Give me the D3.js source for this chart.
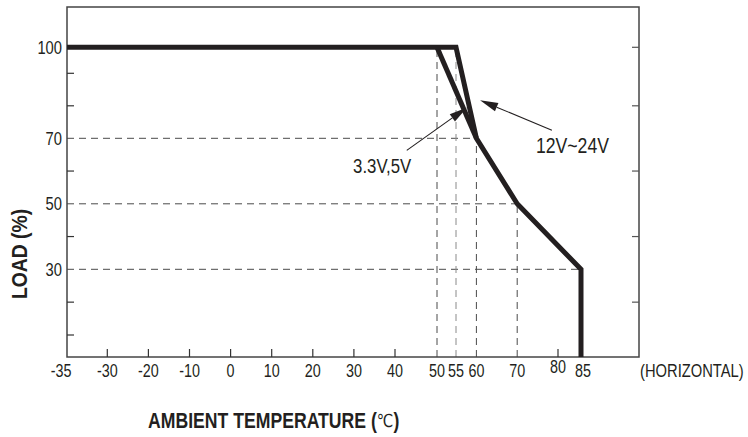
<!DOCTYPE html>
<html><head><meta charset="utf-8">
<script src="https://cdn.jsdelivr.net/npm/d3@7"></script>
<style>body{margin:0;background:#fff} svg{display:block}
text{font-family:"Liberation Sans",Arial,sans-serif;fill:#231f20}
</style>
</head><body><svg id="chart" width="748" height="437"></svg>
<script>
// ---- data ----
const xTickValues = [-35,-30,-20,-10,0,10,20,30,40,50,55,60,70,80,85];
const xTickLabels = ["-35","-30","-20","-10","0","10","20","30","40","50","55","60","70","80","85"];
const xMinorTicks = [-30,-20,-10,0,10,20,30,40,80];
const yTickValues = [100,70,50,30];
const yTickLabels = ["100","70","50","30"];
const yMinorTicks = [90,80,60,40,20,10];
const yRightTicks = [100,80,60,40,20];
const tempHigh = [-35,55,60,70,85,85];
const loadHigh = [100,100,70,50,30,0];
const tempLow = [50,60];
const loadLow = [100,70];
const guideVTemp = [50,55,60,70];
const guideVTop = [100,100,70,50];
const guideHLoad = [70,50,30];
const guideHEnd = [60,70,85];
const labelHigh = "12V~24V";
const labelLow = "3.3V,5V";
const xTitle = "AMBIENT TEMPERATURE (";
const xTitleUnit = "℃";
const xNote = "(HORIZONTAL)";
const yTitle = "LOAD (%)";

// ---- scales (hand-drawn, piecewise axis) ----
const x = d3.scaleLinear().domain([-35,-30,40,50,55,80,85,100]).range([67,107.3,395,437,456,558,581,639]);
const y = d3.scaleLinear().domain([0,10,30,70,90,100]).range([357,335,269.3,138.3,73.3,47.3]);
const svg = d3.select("#chart");
const X0 = x(-35), X1 = x(100), Y0 = y(0), Y1 = 7;
const dashCol = "#4a4a4a";
const NARROW = 0.82;

function txt(px, py, str, size, anchor, opts = {}) {
  const t = svg.append("text")
    .attr("transform", `translate(${px},${py})${opts.rotate ? ` rotate(${opts.rotate})` : ""} scale(${opts.sx || NARROW},1)`)
    .attr("text-anchor", anchor || "start")
    .attr("font-size", size)
    .attr("font-weight", opts.bold ? "bold" : "normal");
  if (opts.dy) t.attr("dy", opts.dy);
  if (str !== null) t.text(str);
  return t;
}

// guides
const g = svg.append("g");
guideHLoad.forEach((v,i)=>{
  g.append("line").attr("x1",X0).attr("x2",x(guideHEnd[i])).attr("y1",y(v)).attr("y2",y(v))
   .attr("stroke",dashCol).attr("stroke-width",1).attr("stroke-dasharray","7,5");
});
guideVTemp.forEach((t,i)=>{
  g.append("line").attr("x1",x(t)).attr("x2",x(t)).attr("y1",Y0).attr("y2",y(guideVTop[i]))
   .attr("stroke",t===55?"#8a8a8a":dashCol).attr("stroke-width",1).attr("stroke-dasharray","7,5");
});

// frame
svg.append("rect").attr("x",X0).attr("y",Y1).attr("width",X1-X0).attr("height",Y0-Y1)
  .attr("fill","none").attr("stroke","#444").attr("stroke-width",1.5);

// ticks
xMinorTicks.forEach(t=>svg.append("line").attr("x1",x(t)).attr("x2",x(t)).attr("y1",Y0).attr("y2",Y0-8).attr("stroke","#333").attr("stroke-width",1.2));
yMinorTicks.forEach(v=>svg.append("line").attr("x1",X0).attr("x2",X0+7).attr("y1",y(v)).attr("y2",y(v)).attr("stroke","#333").attr("stroke-width",1.2));
yRightTicks.forEach(v=>svg.append("line").attr("x1",X1).attr("x2",X1-7).attr("y1",y(v)).attr("y2",y(v)).attr("stroke","#555").attr("stroke-width",1.2));

// tick labels
xTickValues.forEach((t,i)=>{
  txt(x(t)+(i===0?-6:0)+(t===85?2:0), t===80?373:377, xTickLabels[i], 17.5, "middle");
});
txt(640, 377, xNote, 18, "start");
yTickValues.forEach((v,i)=>{
  txt(X0-5, y(v), yTickLabels[i], 18, "end", {dy:"0.36em"});
});

// curves
const line = d3.line().x(d=>x(d[0])).y(d=>y(d[1]));
svg.append("path").datum(tempLow.map((t,i)=>[t,loadLow[i]])).attr("d",line)
  .attr("fill","none").attr("stroke","#231f20").attr("stroke-width",5);
svg.append("path").datum(tempHigh.map((t,i)=>[t,loadHigh[i]])).attr("d",line)
  .attr("fill","none").attr("stroke","#231f20").attr("stroke-width",5).attr("stroke-linejoin","miter");

// annotations
function arrow(t0,l0,t1,l1){
  const ax=x(t0), ay=y(l0), bx=x(t1), by=y(l1);
  const dx=bx-ax, dy=by-ay, L=Math.hypot(dx,dy), ux=dx/L, uy=dy/L;
  const hl=18, hw=4.5;
  const cx=bx-ux*hl, cy=by-uy*hl;
  svg.append("line").attr("x1",ax).attr("y1",ay).attr("x2",cx).attr("y2",cy).attr("stroke","#231f20").attr("stroke-width",1.1);
  svg.append("path").attr("d",`M${bx},${by}L${cx-uy*hw},${cy+ux*hw}L${cx+uy*hw},${cy-ux*hw}Z`).attr("fill","#231f20");
}
arrow(78.5,72.5,60.9,81.7);
arrow(42.8,66.3,57.7,79.5);
txt(x(74.6), y(65.4), labelHigh, 21.5, "start");
txt(x(29.8), y(59.3), labelLow, 20.5, "start");

// axis titles
const tt = txt(148, 428, null, 21.5, "start", {bold:true});
tt.append("tspan").text(xTitle);
tt.append("tspan").attr("font-weight","normal").attr("font-family","'DejaVu Sans',sans-serif").attr("font-size",18).attr("dy",-1).text(xTitleUnit);
tt.append("tspan").attr("dy",1).text(")");
txt(27, 254, yTitle, 21.5, "middle", {bold:true, rotate:-90, sx:0.9});
</script></body></html>
